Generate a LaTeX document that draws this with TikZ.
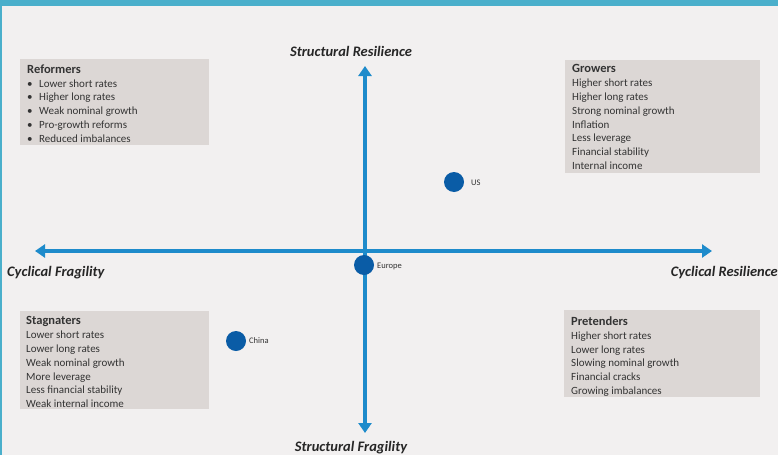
\documentclass[tikz,border=0pt]{standalone}
\usepackage{fontspec}
\setmainfont{Carlito}
\usetikzlibrary{arrows.meta}
\definecolor{bg}{HTML}{F2F0F0}
\definecolor{topbar}{HTML}{4AAFCB}
\definecolor{boxgray}{HTML}{DCD7D5}
\definecolor{axisblue}{HTML}{1E8BCB}
\definecolor{dotblue}{HTML}{0A5CA6}
\definecolor{txt}{HTML}{333333}
\newcommand{\quadhead}[1]{\textbf{\fontsize{12.5}{13.8}\selectfont #1}}
\newcommand{\blt}{\makebox[12pt][l]{\textbullet}}
\tikzset{
  quadbox/.style={fill=boxgray, draw=none, anchor=north west, inner sep=0pt},
  quadtext/.style={anchor=north west, inner sep=0pt, align=left, text=txt,
    font=\fontsize{11}{13.8}\selectfont},
  axis/.style={draw=axisblue, line width=3.2pt, {Triangle[length=10pt,width=13pt]}-{Triangle[length=10pt,width=13pt]}},
  axislabel/.style={font=\fontsize{14.5}{16}\selectfont\bfseries\itshape, text=black!85, inner sep=0pt},
  dot/.style={circle, fill=dotblue, minimum size=20pt, inner sep=0pt},
  dotlabel/.style={font=\fontsize{8.5}{9}\selectfont, text=txt, anchor=west, inner sep=0pt},
}
\begin{document}
\begin{tikzpicture}[x=1pt,y=-1pt]
\useasboundingbox (0,0) rectangle (778,455);
\fill[bg] (0,0) rectangle (778,455);
\fill[topbar] (0,0) rectangle (778,6);
\fill[topbar] (0,0) rectangle (1.5,455);

% boxes
\node[quadbox, minimum width=189pt, minimum height=86pt] (refBox) at (20,59) {};
\node[quadtext] (refText) at (27,64.5) {\quadhead{Reformers}\\
\blt Lower short rates\\
\blt Higher long rates\\
\blt Weak nominal growth\\
\blt Pro-growth reforms\\
\blt Reduced imbalances};

\node[quadbox, minimum width=195pt, minimum height=113pt] (growBox) at (565,60) {};
\node[quadtext] (growText) at (572,64.5) {\quadhead{Growers}\\
Higher short rates\\
Higher long rates\\
Strong nominal growth\\
Inflation\\
Less leverage\\
Financial stability\\
Internal income};

\node[quadbox, minimum width=189pt, minimum height=98pt] (stagBox) at (20,311) {};
\node[quadtext] (stagText) at (26,316.5) {\quadhead{Stagnaters}\\
Lower short rates\\
Lower long rates\\
Weak nominal growth\\
More leverage\\
Less financial stability\\
Weak internal income};

\node[quadbox, minimum width=196pt, minimum height=87pt] (pretBox) at (564,310) {};
\node[quadtext] (pretText) at (571,316.5) {\quadhead{Pretenders}\\
Higher short rates\\
Lower long rates\\
Slowing nominal growth\\
Financial cracks\\
Growing imbalances};

% axes
\coordinate (top) at (365,66);
\coordinate (bot) at (365,433);
\coordinate (left) at (35,251);
\coordinate (right) at (712,251);
\draw[axis] (bot) -- (top);
\draw[axis] (left) -- (right);

\node[axislabel] (sr) at (351,51) {Structural Resilience};
\node[axislabel] (sf) at (351,448) {Structural Fragility};
\node[axislabel, anchor=west] (cf) at (7,273) {Cyclical Fragility};
\node[axislabel, anchor=east] (cr) at (778,273) {Cyclical Resilience};

% dots
\node[dot] (us) at (454,182) {};
\node[dotlabel] (usl) at (471,183) {US};
\node[dot] (eu) at (364,265) {};
\node[dotlabel] (eul) at (377,266) {Europe};
\node[dot] (cn) at (236,341) {};
\node[dotlabel] (cnl) at (249,341) {China};
\end{tikzpicture}
\end{document}
